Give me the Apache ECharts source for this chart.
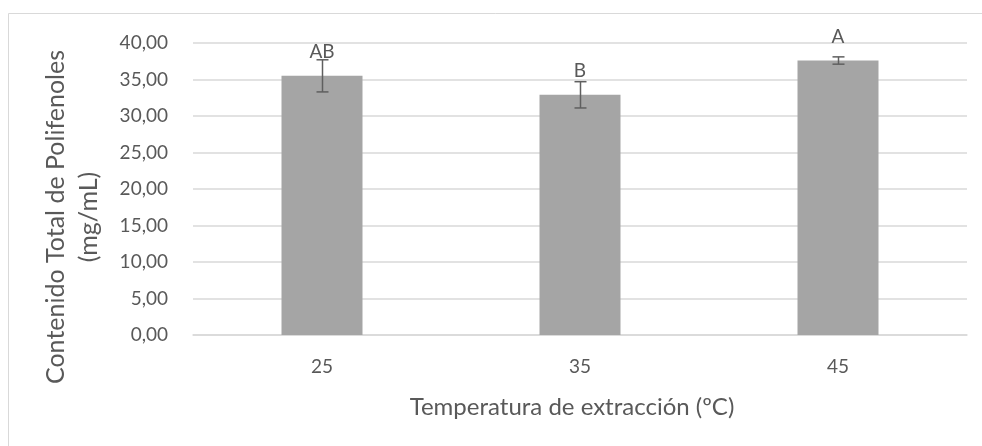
<!DOCTYPE html>
<html>
<head>
<meta charset="utf-8">
<script src="https://cdn.jsdelivr.net/npm/echarts@6/dist/echarts.min.js"></script>
<style>
  html, body { margin: 0; padding: 0; background: #fff; }
  #chart { width: 982px; height: 446px; }
</style>
</head>
<body>
<div id="chart"></div>
<script>
// Extraction temperature (ºC)
const categories = ['25', '35', '45'];
// Mean total polyphenol content (mg/mL)
const means = [35.5, 32.9, 37.6];
// Error bar half-lengths (± mg/mL)
const errors = [2.2, 1.8, 0.5];
// Significance letters above each bar
const letters = ['AB', 'B', 'A'];

const FONT = 'Lato';
const TEXT = '#595959';
const GRID = '#d9d9d9';

const fmt = v => v.toFixed(2).replace('.', ',');

const chart = echarts.init(document.getElementById('chart'), null, { renderer: 'canvas' });

chart.setOption({
  animation: false,
  backgroundColor: '#fff',
  textStyle: { fontFamily: FONT, color: TEXT },
  grid: { left: 193, right: 15, top: 43, bottom: 111, containLabel: false, outerBoundsMode: 'none' },
  graphic: [{
    type: 'rect',
    shape: { x: 8.5, y: 13.5, width: 1200, height: 800 },
    style: { fill: 'none', stroke: GRID, lineWidth: 1 },
    silent: true
  }],
  xAxis: {
    type: 'category',
    data: categories,
    axisLine: { lineStyle: { color: GRID, width: 1.5 } },
    axisTick: { show: false },
    axisLabel: { color: TEXT, fontFamily: FONT, fontSize: 19, margin: 22 },
    name: 'Temperatura de extracción (ºC)',
    nameLocation: 'middle',
    nameGap: 60,
    nameTextStyle: { color: TEXT, fontFamily: FONT, fontSize: 24, padding: [0, 16, 0, 0] }
  },
  yAxis: {
    type: 'value',
    min: 0,
    max: 40,
    interval: 5,
    axisLine: { show: false },
    axisTick: { show: false },
    splitLine: { lineStyle: { color: GRID, width: 1.5 } },
    axisLabel: { color: TEXT, fontFamily: FONT, fontSize: 19, margin: 25, formatter: fmt },
    name: 'Contenido Total de Polifenoles\n(mg/mL)',
    nameLocation: 'middle',
    nameRotate: 90,
    nameGap: 88,
    nameTextStyle: { color: TEXT, fontFamily: FONT, fontSize: 25, lineHeight: 33, padding: [0, 56, 0, 0] }
  },
  series: [
    {
      type: 'bar',
      data: means,
      barWidth: 81,
      itemStyle: { color: '#a5a5a5' },
      label: {
        show: true,
        position: 'top',
        distance: 14,
        color: TEXT,
        fontFamily: FONT,
        fontSize: 19,
        formatter: p => letters[p.dataIndex]
      },
      z: 2
    },
    {
      // Error bars drawn from mean ± error through the axis scales
      type: 'custom',
      data: means.map((m, i) => [i, m - errors[i], m + errors[i]]),
      renderItem: (params, api) => {
        const lo = api.coord([api.value(0), api.value(1)]);
        const hi = api.coord([api.value(0), api.value(2)]);
        const x = Math.round(lo[0]) + 0.5;
        const half = 6;
        const style = { stroke: '#5f5f5f', lineWidth: 1.5 };
        return {
          type: 'group',
          children: [
            { type: 'line', shape: { x1: x, y1: hi[1], x2: x, y2: lo[1] }, style },
            { type: 'line', shape: { x1: x - half, y1: hi[1], x2: x + half, y2: hi[1] }, style },
            { type: 'line', shape: { x1: x - half, y1: lo[1], x2: x + half, y2: lo[1] }, style }
          ]
        };
      },
      z: 3
    }
  ]
});
</script>
</body>
</html>
